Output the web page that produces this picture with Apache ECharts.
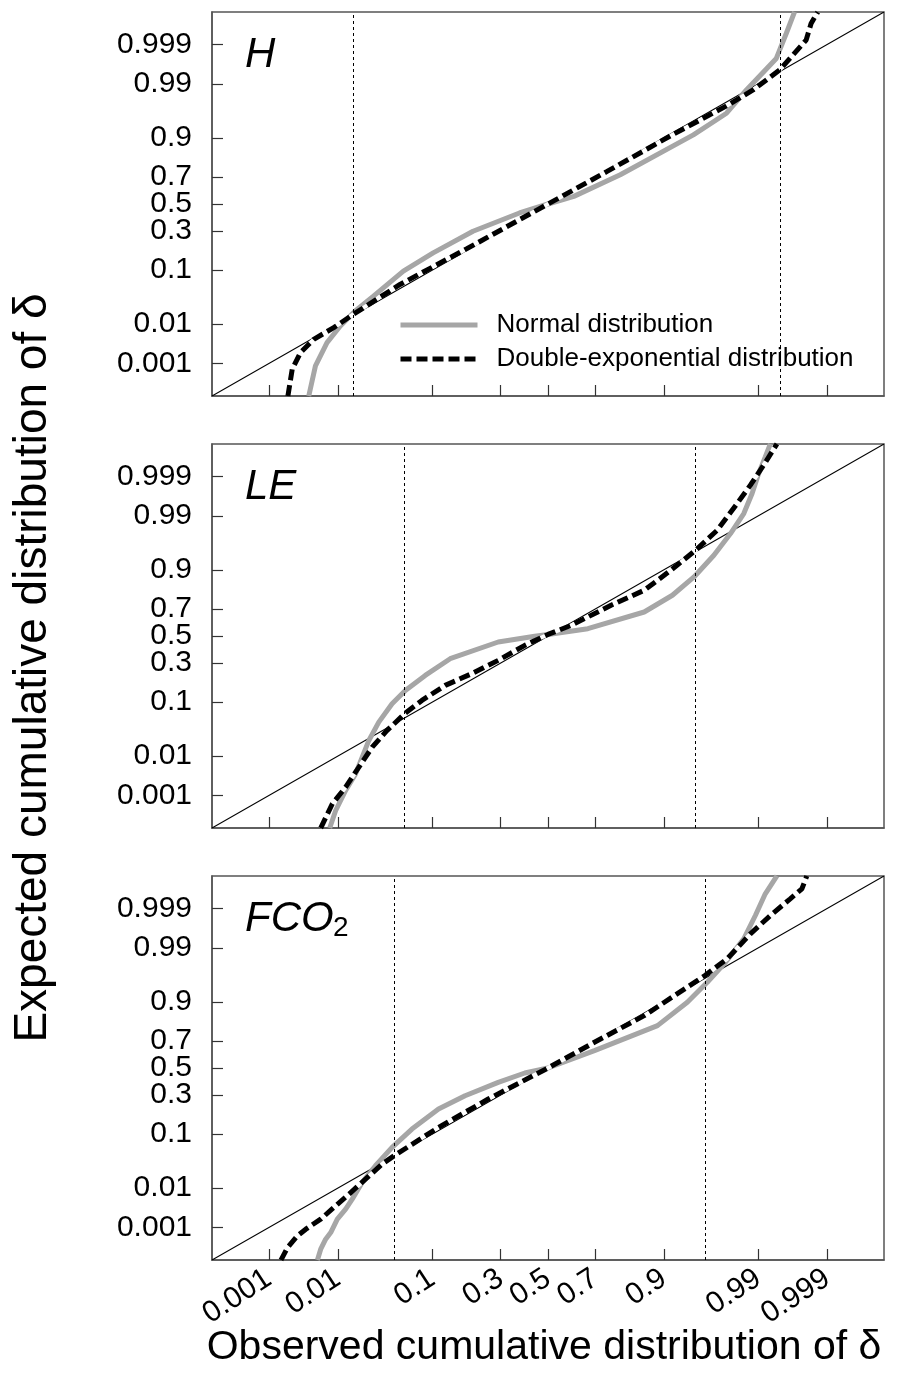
<!DOCTYPE html>
<html><head><meta charset="utf-8">
<script src="https://cdn.jsdelivr.net/npm/echarts@6/dist/echarts.min.js"></script>
<style>html,body{margin:0;padding:0;background:#fff}#c{width:899px;height:1377px}</style>
</head><body><div id="c"></div>
<script>
// Tick probabilities shown on both probability (probit) axes
const tickProbs = [0.001, 0.01, 0.1, 0.3, 0.5, 0.7, 0.9, 0.99, 0.999];
const tickLabels = ['0.001', '0.01', '0.1', '0.3', '0.5', '0.7', '0.9', '0.99', '0.999'];
const axisProbRange = [0.0001, 0.9999];

// Curves, as [observed, expected] positions in probit units (standard normal quantiles)
const H_normal = [[-2.648,-3.72],[-2.574,-3.136],[-2.446,-2.685],[-2.299,-2.363],[-2.134,-2.073],[-1.932,-1.784],[-1.601,-1.301],[-1.271,-0.947],[-0.830,-0.528],[-0.316,-0.174],[0,0],[0.286,0.148],[0.80,0.567],[1.609,1.339],[1.976,1.758],[2.196,2.209],[2.527,2.820],[2.637,3.303],[2.729,3.72]];
const H_dexp = [[-2.879,-3.72],[-2.831,-3.20],[-2.740,-2.878],[-2.593,-2.621],[-2.372,-2.395],[-2.156,-2.138],[-1.638,-1.558],[-0.903,-0.87],[0,0],[0.654,0.631],[1.388,1.352],[1.976,1.90],[2.270,2.209],[2.563,2.595],[2.857,3.174],[2.912,3.496],[2.986,3.72]];
const LE_normal = [[-2.416,-3.72],[-2.350,-3.38],[-2.240,-2.99],[-2.130,-2.67],[-1.983,-2.023],[-1.873,-1.668],[-1.726,-1.312],[-1.579,-1.054],[-1.359,-0.763],[-1.083,-0.440],[-0.551,-0.116],[-0.147,-0.006],[0,0.03],[0.441,0.142],[1.065,0.465],[1.377,0.789],[1.616,1.144],[1.836,1.564],[2.020,1.985],[2.167,2.372],[2.259,2.760],[2.332,3.148],[2.405,3.471],[2.461,3.72]];
const LE_dexp = [[-2.516,-3.72],[-2.387,-3.25],[-2.240,-2.928],[-2.093,-2.540],[-1.946,-2.153],[-1.781,-1.829],[-1.579,-1.493],[-1.396,-1.248],[-1.138,-0.957],[-0.845,-0.730],[-0.551,-0.472],[-0.257,-0.181],[0,0.03],[0.257,0.207],[0.698,0.595],[1.065,0.886],[1.359,1.273],[1.634,1.661],[1.873,2.049],[2.093,2.566],[2.240,2.922],[2.387,3.310],[2.534,3.72]];
const FCO2_normal = [[-2.552,-3.72],[-2.516,-3.51],[-2.461,-3.316],[-2.405,-3.187],[-2.332,-2.928],[-2.240,-2.734],[-2.167,-2.540],[-2.057,-2.217],[-1.910,-1.894],[-1.726,-1.538],[-1.506,-1.183],[-1.212,-0.795],[-0.918,-0.537],[-0.551,-0.278],[-0.257,-0.097],[0,0],[0.514,0.336],[1.212,0.821],[1.542,1.273],[1.763,1.661],[1.965,2.049],[2.167,2.502],[2.295,2.954],[2.405,3.374],[2.534,3.72]];
const FCO2_dexp = [[-2.956,-3.72],[-2.883,-3.478],[-2.773,-3.251],[-2.681,-3.122],[-2.516,-2.928],[-2.350,-2.670],[-2.203,-2.443],[-2.020,-2.153],[-1.836,-1.862],[-1.704,-1.700],[-1.212,-1.151],[-0.661,-0.601],[0,0],[0.514,0.498],[1.065,1.015],[1.737,1.791],[1.983,2.114],[2.240,2.599],[2.461,2.954],[2.681,3.277],[2.810,3.471],[2.865,3.72]];

// Vertical dotted threshold lines (probit units of observed distribution)
const H_thresholds = [-2.156, 2.567];
const LE_thresholds = [-1.590, 1.634];
const FCO2_thresholds = [-1.704, 1.737];

const seriesNames = ['Normal distribution', 'Double-exponential distribution'];

function probit(p) {
  const a = [-3.969683028665376e+01, 2.209460984245205e+02, -2.759285104469687e+02, 1.383577518672690e+02, -3.066479806614716e+01, 2.506628277459239e+00];
  const b = [-5.447609879822406e+01, 1.615858368580409e+02, -1.556989798598866e+02, 6.680131188771972e+01, -1.328068155288572e+01];
  const c = [-7.784894002430293e-03, -3.223964580411365e-01, -2.400758277161838e+00, -2.549732539343734e+00, 4.374664141464968e+00, 2.938163982698783e+00];
  const d = [7.784695709041462e-03, 3.224671290700398e-01, 2.445134137142996e+00, 3.754408661907416e+00];
  const plow = 0.02425, phigh = 1 - plow;
  let q, r;
  if (p < plow) {
    q = Math.sqrt(-2 * Math.log(p));
    return (((((c[0]*q+c[1])*q+c[2])*q+c[3])*q+c[4])*q+c[5]) / ((((d[0]*q+d[1])*q+d[2])*q+d[3])*q+1);
  } else if (p <= phigh) {
    q = p - 0.5; r = q*q;
    return (((((a[0]*r+a[1])*r+a[2])*r+a[3])*r+a[4])*r+a[5])*q / (((((b[0]*r+b[1])*r+b[2])*r+b[3])*r+b[4])*r+1);
  } else {
    q = Math.sqrt(-2 * Math.log(1 - p));
    return -(((((c[0]*q+c[1])*q+c[2])*q+c[3])*q+c[4])*q+c[5]) / ((((d[0]*q+d[1])*q+d[2])*q+d[3])*q+1);
  }
}

const tickZ = tickProbs.map(probit);
const zMin = probit(axisProbRange[0]);
const zMax = probit(axisProbRange[1]);
function fmt(v) {
  for (let i = 0; i < tickZ.length; i++) if (Math.abs(tickZ[i] - v) < 1e-6) return tickLabels[i];
  return '';
}

const FONT = '"Liberation Sans", Arial, Helvetica, sans-serif';
const panels = [
  { normal: H_normal, dexp: H_dexp, thr: H_thresholds },
  { normal: LE_normal, dexp: LE_dexp, thr: LE_thresholds },
  { normal: FCO2_normal, dexp: FCO2_dexp, thr: FCO2_thresholds }
];
const gridTops = [12, 444, 876];

const grids = [], xAxes = [], yAxes = [], series = [];
panels.forEach((p, i) => {
  grids.push({ left: 212, width: 672, top: gridTops[i], height: 384, show: true, borderColor: '#555', borderWidth: 1.5, backgroundColor: 'transparent' });
  xAxes.push({
    gridIndex: i, type: 'value', min: zMin, max: zMax,
    axisLine: { show: true, onZero: false, lineStyle: { color: '#555', width: 1.5 } },
    axisTick: { show: true, inside: true, length: 11, customValues: tickZ, lineStyle: { color: '#333', width: 1.2 } },
    axisLabel: { show: i === 2, customValues: tickZ, formatter: fmt, rotate: 33, margin: 16, fontSize: 30, color: '#000', fontFamily: FONT },
    splitLine: { show: false }
  });
  yAxes.push({
    gridIndex: i, type: 'value', min: zMin, max: zMax,
    axisLine: { show: true, onZero: false, lineStyle: { color: '#555', width: 1.5 } },
    axisTick: { show: true, inside: true, length: 11, customValues: tickZ, lineStyle: { color: '#333', width: 1.2 } },
    axisLabel: { show: true, customValues: tickZ, formatter: fmt, margin: 20, fontSize: 30, color: '#000', fontFamily: FONT },
    splitLine: { show: false }
  });
  series.push({
    type: 'line', name: '_diag' + i, xAxisIndex: i, yAxisIndex: i, silent: true, z: 1,
    data: [[zMin, zMin], [zMax, zMax]], symbol: 'none',
    lineStyle: { color: '#000', width: 1.1 },
    markLine: {
      silent: true, symbol: ['none', 'none'], label: { show: false },
      lineStyle: { color: '#000', width: 1, type: [3, 3] },
      data: p.thr.map(v => ({ xAxis: v }))
    }
  });
  series.push({
    type: 'line', name: seriesNames[0], xAxisIndex: i, yAxisIndex: i, z: 2,
    data: p.normal, symbol: 'none', showSymbol: false,
    lineStyle: { color: '#a6a6a6', width: 5 }, itemStyle: { color: '#a6a6a6' }
  });
  series.push({
    type: 'line', name: '_under' + i, xAxisIndex: i, yAxisIndex: i, z: 3, silent: true,
    data: p.dexp, symbol: 'none',
    lineStyle: { color: '#fff', width: 4 }
  });
  series.push({
    type: 'line', name: seriesNames[1], xAxisIndex: i, yAxisIndex: i, z: 4,
    data: p.dexp, symbol: 'none', showSymbol: false,
    lineStyle: { color: '#000', width: 5, type: [11, 5], cap: 'butt' }, itemStyle: { color: '#000' }
  });
});

const option = {
  animation: false,
  backgroundColor: '#fff',
  grid: grids, xAxis: xAxes, yAxis: yAxes, series: series,
  legend: {
    data: seriesNames, orient: 'vertical', left: 393, top: 307,
    itemWidth: 77, itemHeight: 26, itemGap: 8,
    itemStyle: { opacity: 0 },
    lineStyle: { width: 5 },
    textStyle: { fontSize: 26, lineHeight: 26, color: '#000', fontFamily: FONT, padding: [0, 0, 0, 14] }
  },
  graphic: [
    { type: 'text', left: 245, top: 34, style: { text: 'H', font: 'italic 42px ' + FONT, fill: '#000' } },
    { type: 'text', left: 245, top: 466, style: { text: 'LE', font: 'italic 42px ' + FONT, fill: '#000' } },
    { type: 'text', left: 245, top: 898, style: { text: 'FCO', font: 'italic 42px ' + FONT, fill: '#000' } },
    { type: 'text', left: 333, top: 914, style: { text: '2', font: '28px ' + FONT, fill: '#000' } },
    { type: 'text', x: 33, y: 668, rotation: Math.PI / 2, style: { text: 'Expected cumulative distribution of δ', font: '46px ' + FONT, fill: '#000', align: 'center', verticalAlign: 'middle' } },
    { type: 'text', x: 544, y: 1348, style: { text: 'Observed cumulative distribution of δ', font: '41px ' + FONT, fill: '#000', align: 'center', verticalAlign: 'middle' } }
  ]
};
const chart = echarts.init(document.getElementById('c'), null, { renderer: 'canvas' });
chart.setOption(option);
</script>
</body></html>
